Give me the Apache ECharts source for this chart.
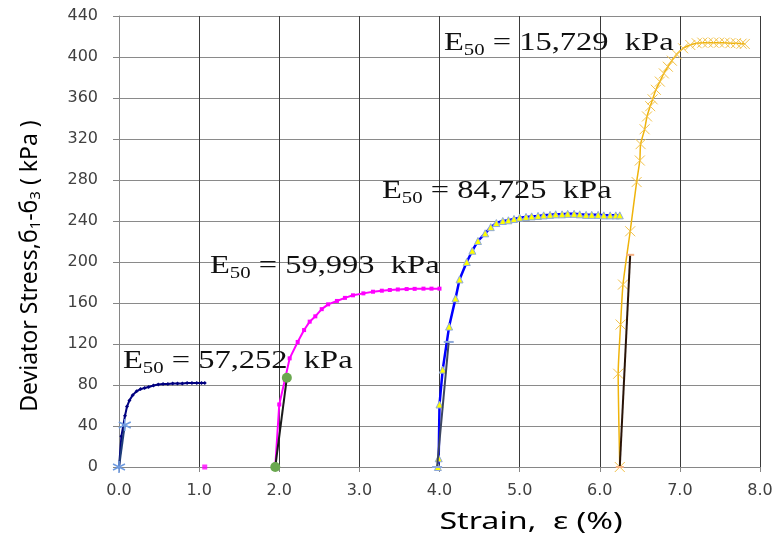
<!DOCTYPE html>
<html><head><meta charset="utf-8">
<script src="https://cdn.jsdelivr.net/npm/echarts@6/dist/echarts.min.js"></script>
<style>html,body{margin:0;padding:0;background:#fff}#c{width:778px;height:543px}</style>
</head><body><div id="c"></div>
<script>
// ---- data (strain in %, deviator stress in kPa) ----
const xMin = 0, xMax = 8, xStep = 1;
const yMin = 0, yMax = 440, yStep = 40;

const s1Strain = [0, 0.03, 0.075, 0.10, 0.13, 0.17, 0.22, 0.27, 0.32, 0.37, 0.43, 0.49, 0.55, 0.61, 0.67, 0.73, 0.79, 0.85, 0.91, 0.97, 1.03, 1.07];
const s1Stress = [0, 30, 50, 59, 65, 70, 74, 76, 77, 78, 79.5, 80.5, 81, 81, 81.5, 81.5, 81.5, 82, 82, 82, 82, 82];
const t1Strain = [0, 0.072];
const t1Stress = [0, 41];

const s2Strain = [1.95, 2.0, 2.07, 2.13, 2.23, 2.31, 2.38, 2.45, 2.53, 2.61, 2.72, 2.82, 2.92, 3.05, 3.17, 3.28, 3.38, 3.48, 3.59, 3.69, 3.80, 3.90, 4.0];
const s2Stress = [0, 61, 85, 106, 122, 133.6, 141.8, 147, 154, 158.7, 162, 165, 167.5, 169.4, 171, 172, 172.7, 173.2, 173.6, 173.8, 174, 174, 174];
const s2ExtraStrain = [1.07];
const s2ExtraStress = [0];
const t2Strain = [1.95, 2.095];
const t2Stress = [0, 87];

const s3Strain = [3.98, 3.99, 4.0, 4.04, 4.12, 4.2, 4.25, 4.34, 4.41, 4.48, 4.57, 4.64, 4.71, 4.79, 4.86, 4.93, 5.0, 5.08, 5.15, 5.23, 5.3, 5.38, 5.45, 5.53, 5.6, 5.68, 5.75, 5.83, 5.9, 5.98, 6.05, 6.13, 6.2, 6.25];
const s3Stress = [0, 8.5, 61, 95, 137, 164.5, 183, 200, 211, 220.5, 228, 234, 238, 240, 240.7, 242, 243.3, 244, 244.5, 245, 245.5, 246, 246.5, 246.5, 247, 247, 246.5, 246, 246, 246, 245.5, 245.5, 245.5, 245.5];
const t3Strain = [3.97, 4.115];
const t3Stress = [0, 122];

const s4Strain = [6.25, 6.23, 6.26, 6.29, 6.38, 6.46, 6.5, 6.51, 6.56, 6.59, 6.63, 6.66, 6.70, 6.75, 6.80, 6.85, 6.90, 6.96, 7.04, 7.13, 7.21, 7.28, 7.35, 7.42, 7.49, 7.56, 7.63, 7.70, 7.77, 7.81];
const s4Stress = [0, 91, 139, 178, 230, 278, 299, 315, 329.5, 342, 352, 358.7, 368, 376, 384, 390.5, 396.4, 402.6, 408.5, 411.7, 413.4, 414, 414, 414, 414, 414, 413.5, 413.5, 413, 412.7];
const t4Strain = [6.25, 6.38];
const t4Stress = [0, 207];

const e50Labels = ['57,252', '59,993', '84,725', '15,729'];
const yTitleParts = ['Deviator Stress,б', '1', '-б', '3', ' ( kPa )'];
const xTitle = 'Strain,  ε (%)';

// ---- build ----
const zip = (a, b) => a.map((v, i) => [v, b[i]]);
const asterisk = 'path://M0,-1L0,1M-0.87,-0.5L0.87,0.5M-0.87,0.5L0.87,-0.5';
const cross = 'path://M-1,-1L1,1M-1,1L1,-1';

const chart = echarts.init(document.getElementById('c'), null, {renderer: 'canvas'});

function e50Text(x, y, val) {
  return {
    type: 'text', x: x, y: y, scaleX: 1.3,
    style: {
      text: '{e|E}{s|50}{e| = ' + val + '  kPa}',
      verticalAlign: 'middle', align: 'left',
      rich: {
        e: {fontFamily: 'Liberation Serif', fontSize: 25, lineHeight: 32, fill: '#111'},
        s: {fontFamily: 'Liberation Serif', fontSize: 16, lineHeight: 16, fill: '#111', verticalAlign: 'bottom'}
      }
    },
    z: 100
  };
}

const option = {
  animation: false,
  backgroundColor: '#fff',
  grid: {left: 119, right: 18, top: 16, bottom: 76},
  xAxis: {
    type: 'value', min: xMin, max: xMax, interval: xStep,
    axisLine: {show: true, onZero: false, lineStyle: {color: '#868686', width: 1}},
    axisTick: {show: true, inside: false, length: 5, lineStyle: {color: '#868686'}},
    axisLabel: {margin: 16, color: '#404040', fontFamily: 'DejaVu Sans', fontSize: 16, formatter: v => v.toFixed(1)},
    splitLine: {show: true, lineStyle: {color: '#3a3a3a', width: 1}}
  },
  yAxis: {
    type: 'value', min: yMin, max: yMax, interval: yStep,
    axisLine: {show: true, lineStyle: {color: '#868686', width: 1}},
    axisTick: {show: true, inside: false, length: 6, lineStyle: {color: '#868686'}},
    axisLabel: {margin: 21, color: '#404040', fontFamily: 'DejaVu Sans', fontSize: 16},
    splitLine: {show: true, lineStyle: {color: '#8a8a8a', width: 1}}
  },
  graphic: [
    e50Text(123, 361, e50Labels[0]),
    e50Text(210, 266, e50Labels[1]),
    e50Text(382, 191, e50Labels[2]),
    e50Text(444, 43, e50Labels[3]),
    {
      type: 'text', x: 30, y: 266, rotation: Math.PI / 2, scaleY: 1.0,
      style: {
        text: '{a|' + yTitleParts[0] + '}{b|' + yTitleParts[1] + '}{a|' + yTitleParts[2] + '}{b|' + yTitleParts[3] + '}{a|' + yTitleParts[4] + '}',
        align: 'center', verticalAlign: 'middle',
        rich: {
          a: {fontFamily: 'Noto Sans', fontSize: 23, lineHeight: 26, fill: '#000'},
          b: {fontFamily: 'Noto Sans', fontSize: 15, lineHeight: 15, fill: '#000', verticalAlign: 'bottom'}
        }
      }
    },
    {
      type: 'text', x: 531, y: 522, scaleX: 1.4,
      style: {text: xTitle, align: 'center', verticalAlign: 'middle', fontFamily: 'Noto Sans', fontSize: 23, fill: '#000'}
    }
  ],
  series: [
    {type: 'line', data: zip(s1Strain, s1Stress), symbol: 'diamond', symbolSize: 4,
     lineStyle: {color: '#000080', width: 2}, itemStyle: {color: '#000080'}, z: 3},
    {type: 'line', data: zip(t1Strain, t1Stress), symbol: asterisk, symbolSize: 12,
     lineStyle: {color: '#1f3d7a', width: 2}, itemStyle: {color: '#6f9be0', borderColor: '#6f9be0', borderWidth: 1.5}, z: 4},

    {type: 'line', data: zip(s2Strain, s2Stress), symbol: 'rect', symbolSize: 4,
     lineStyle: {color: '#ff00ff', width: 2}, itemStyle: {color: '#ff00ff'}, z: 3},
    {type: 'scatter', data: zip(s2ExtraStrain, s2ExtraStress), symbol: 'rect', symbolSize: 5,
     itemStyle: {color: '#ff00ff'}, z: 3},
    {type: 'line', data: zip(t2Strain, t2Stress), symbol: 'circle', symbolSize: 10,
     lineStyle: {color: '#1a1a1a', width: 2}, itemStyle: {color: '#6aa84f'}, z: 4},

    {type: 'line', data: zip(s3Strain, s3Stress), symbol: 'triangle', symbolSize: 7,
     lineStyle: {color: '#0000ff', width: 2.5}, itemStyle: {color: '#ffff00', borderColor: '#8ea9db', borderWidth: 1}, z: 3},
    {type: 'line', data: zip(t3Strain, t3Stress), symbol: 'rect', symbolSize: [10, 2],
     lineStyle: {color: '#3c4660', width: 2}, itemStyle: {color: '#8ea9db'}, z: 4},

    {type: 'line', data: zip(s4Strain, s4Stress), symbol: cross, symbolSize: 10, smooth: 0.2,
     lineStyle: {color: '#efb30a', width: 1.5}, itemStyle: {color: '#f2c24a', borderColor: '#f2c24a', borderWidth: 1}, z: 3},
    {type: 'line', data: zip(t4Strain, t4Stress), symbol: 'rect', symbolSize: [8, 2],
     lineStyle: {color: '#2a1408', width: 2}, itemStyle: {color: '#f4b183'}, z: 4}
  ]
};
chart.setOption(option);
</script>
</body></html>
